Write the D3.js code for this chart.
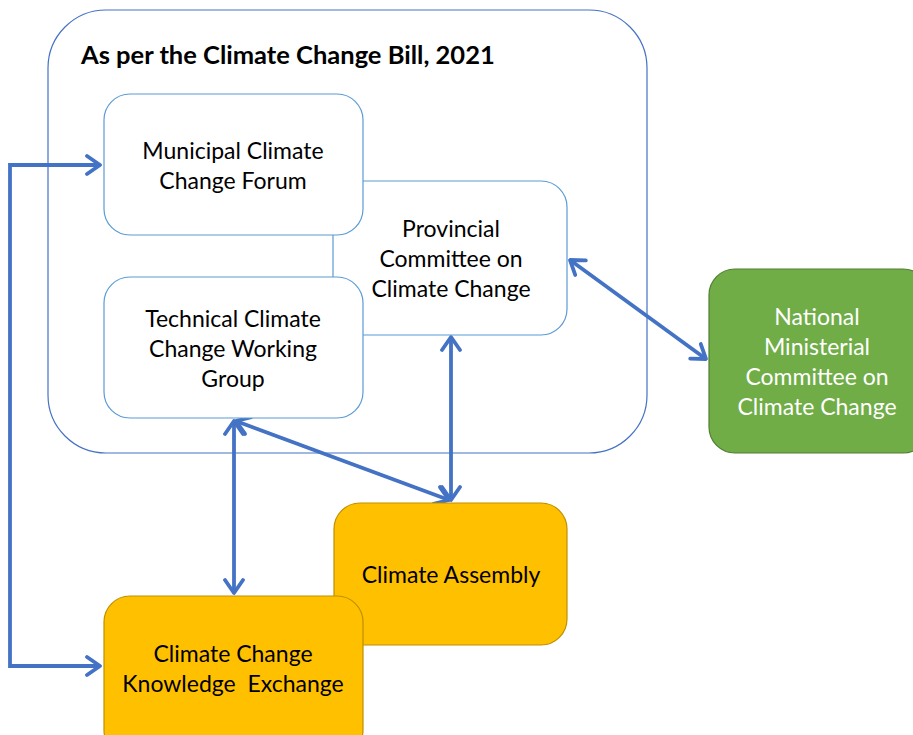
<!DOCTYPE html>
<html>
<head>
<meta charset="utf-8">
<script src="https://cdn.jsdelivr.net/npm/d3@7"></script>
<style>
  html, body { margin: 0; padding: 0; background: #fff; }
  svg { display: block; }
  text { font-family: Lato, "Open Sans", sans-serif; }
</style>
</head>
<body>
<div id="main"></div>
<script>
// labels of the diagram
var title = 'As per the Climate Change Bill, 2021';
var boxNames = ['provincial', 'municipal', 'technical', 'national', 'assembly', 'exchange'];
var boxLabels = [
  ['Provincial', 'Committee on', 'Climate Change'],
  ['Municipal Climate', 'Change Forum'],
  ['Technical Climate', 'Change Working', 'Group'],
  ['National', 'Ministerial', 'Committee on', 'Climate Change'],
  ['Climate Assembly'],
  ['Climate Change', 'Knowledge  Exchange']
];
var boxKinds = ['inner', 'inner', 'inner', 'green', 'yellow', 'yellow'];

// layout (pixels)
var width = 913, height = 735;
var outer = { x: 48, y: 10, w: 599, h: 443, r: 58 };
var boxLayout = {
  provincial: { x: 333, y: 181, w: 234, h: 154, r: 26 },
  municipal:  { x: 104, y: 94,  w: 259, h: 141, r: 26 },
  technical:  { x: 104, y: 277, w: 259, h: 141, r: 26 },
  national:   { x: 709, y: 269, w: 220, h: 184, r: 26 },
  assembly:   { x: 334, y: 503, w: 233, h: 142, r: 26 },
  exchange:   { x: 104, y: 596, w: 259, h: 160, r: 26 }
};
// arrows: polyline points, arrowheads at both ends
var arrows = [
  [[100, 165], [10, 165], [10, 666], [100, 666]],
  [[234, 421], [234, 593]],
  [[236, 421], [449, 500]],
  [[451, 337], [451, 500]],
  [[570, 260], [706, 359]]
];

var styles = {
  inner:  { fill: '#fff', stroke: '#5B9BD5', text: '#000' },
  green:  { fill: '#70AD47', stroke: '#507E32', text: '#fff' },
  yellow: { fill: '#FFC000', stroke: '#BF9000', text: '#000' }
};
var blue = '#4472C4';

var svg = d3.select('#main').append('svg')
  .attr('width', width).attr('height', height);

var defs = svg.append('defs');
['start', 'end'].forEach(function(k) {
  defs.append('marker')
    .attr('id', 'head-' + k)
    .attr('markerUnits', 'userSpaceOnUse')
    .attr('viewBox', '-18 -12 20 24')
    .attr('refX', 0).attr('refY', 0)
    .attr('markerWidth', 20).attr('markerHeight', 24)
    .attr('orient', k === 'end' ? 'auto' : 'auto-start-reverse')
    .append('path')
    .attr('d', 'M-13,-9 L0,0 L-13,9')
    .attr('fill', 'none')
    .attr('stroke', blue)
    .attr('stroke-width', 3.8)
    .attr('stroke-linecap', 'round')
    .attr('stroke-linejoin', 'round');
});

var line = d3.line();
svg.append('g').selectAll('path')
  .data(arrows)
  .enter().append('path')
  .attr('d', line)
  .attr('fill', 'none')
  .attr('stroke', blue)
  .attr('stroke-width', 3.8)
  .attr('marker-start', 'url(#head-start)')
  .attr('marker-end', 'url(#head-end)');

// outer container
svg.append('rect')
  .attr('x', outer.x).attr('y', outer.y)
  .attr('width', outer.w).attr('height', outer.h)
  .attr('rx', outer.r).attr('ry', outer.r)
  .attr('fill', 'none')
  .attr('stroke', blue)
  .attr('stroke-width', 1.2);

svg.append('text')
  .attr('x', 81).attr('y', 64)
  .attr('font-size', 25.5)
  .attr('font-weight', 'bold')
  .text(title);

var boxes = boxNames.map(function(n, i) {
  return { name: n, lines: boxLabels[i], kind: boxKinds[i], pos: boxLayout[n] };
});

var lineH = 30;
var g = svg.selectAll('g.box')
  .data(boxes)
  .enter().append('g')
  .attr('class', 'box');

g.append('rect')
  .attr('x', function(d) { return d.pos.x; })
  .attr('y', function(d) { return d.pos.y; })
  .attr('width', function(d) { return d.pos.w; })
  .attr('height', function(d) { return d.pos.h; })
  .attr('rx', function(d) { return d.pos.r; })
  .attr('ry', function(d) { return d.pos.r; })
  .attr('fill', function(d) { return styles[d.kind].fill; })
  .attr('stroke', function(d) { return styles[d.kind].stroke; })
  .attr('stroke-width', 1.2);

// text centres
var textCentre = {
  provincial: [451, 259],
  municipal:  [233, 166],
  technical:  [233, 349],
  national:   [817, 362],
  assembly:   [451, 575],
  exchange:   [233, 669]
};

g.append('text')
  .attr('text-anchor', 'middle')
  .attr('font-size', 23)
  .attr('fill', function(d) { return styles[d.kind].text; })
  .each(function(d) {
    var c = textCentre[d.name];
    var n = d.lines.length;
    d3.select(this).selectAll('tspan')
      .data(d.lines)
      .enter().append('tspan')
      .attr('x', c[0])
      .attr('y', function(t, i) { return c[1] + (i - (n - 1) / 2) * lineH; })
      .attr('dy', '0.35em')
      .style('white-space', 'pre')
      .text(function(t) { return t; });
  });
</script>
</body>
</html>
